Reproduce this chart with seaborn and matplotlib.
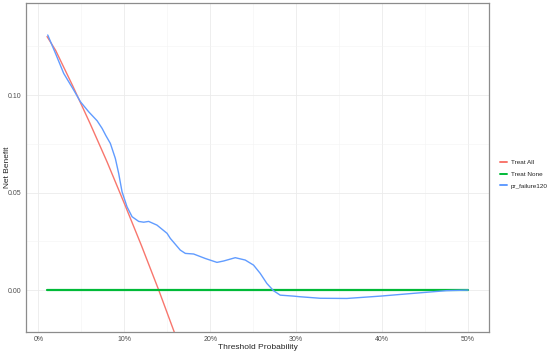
import numpy as np
import pandas as pd
import matplotlib
matplotlib.use("Agg")
import matplotlib.pyplot as plt
import seaborn as sns
from matplotlib.ticker import FuncFormatter, MultipleLocator

# Treat All
all_t = [0.01, 0.02, 0.04, 0.06, 0.08, 0.10, 0.12, 0.14, 0.16]
all_nb = [0.130, 0.1229, 0.1046, 0.0855, 0.0656, 0.0444, 0.0227, 0.0, -0.0238]

# Treat None
none_t = [0.01, 0.50]
none_nb = [0.0, 0.0]

# Model curve pr_failure120
mod_t = [0.0108, 0.0198, 0.0294, 0.041, 0.0488, 0.0585, 0.0683, 0.0741, 0.0785,
         0.0837, 0.0895, 0.0934, 0.0973, 0.1031, 0.109, 0.1167, 0.1225, 0.1283,
         0.138, 0.1497, 0.1535, 0.1651, 0.171, 0.1806, 0.1942, 0.2078, 0.2155,
         0.2291, 0.2407, 0.2504, 0.2581, 0.2659, 0.2736, 0.2814, 0.2969, 0.3038,
         0.328, 0.359, 0.398, 0.436, 0.475, 0.50]
mod_nb = [0.1308, 0.1214, 0.1111, 0.1026, 0.0966, 0.0914, 0.0868, 0.0829, 0.0792,
          0.0752, 0.0675, 0.0598, 0.0504, 0.0427, 0.0376, 0.0352, 0.0348, 0.0352,
          0.0333, 0.0291, 0.0265, 0.0205, 0.0188, 0.0185, 0.0162, 0.0142, 0.0149,
          0.0166, 0.0154, 0.0128, 0.0086, 0.0034, -0.0003, -0.0026, -0.0031, -0.0034,
          -0.0042, -0.0043, -0.0031, -0.0017, -0.0003, 0.0]

labels = ["Treat All", "Treat None", "pr_failure120"]
colors = ["#F8766D", "#00BA38", "#619CFF"]

df = pd.concat([
    pd.DataFrame({"t": all_t, "nb": all_nb, "model": labels[0]}),
    pd.DataFrame({"t": none_t, "nb": none_nb, "model": labels[1]}),
    pd.DataFrame({"t": mod_t, "nb": mod_nb, "model": labels[2]}),
])

sns.set_style("white")
plt.rcParams['font.family'] = ['Liberation Sans', 'DejaVu Sans']

fig = plt.figure(figsize=(5.54, 3.53), dpi=100)
ax = fig.add_axes([26/554, 1-332/353, (489-26)/554, (332-3)/353])

widths = [1.0, 1.6, 1.0]
handles = []
for lab, col, lw in zip(labels, colors, widths):
    sub = df[df["model"] == lab]
    sns.lineplot(data=sub, x="t", y="nb", color=col, linewidth=lw, ax=ax,
                 sort=False, estimator=None, legend=False)
    handles.append(plt.Line2D([0], [0], color=col, linewidth=1.4))

ax.set_xlim(-0.0145, 0.5245)
ax.set_ylim(-0.0215, 0.1472)
ax.xaxis.set_major_locator(MultipleLocator(0.1))
ax.xaxis.set_minor_locator(MultipleLocator(0.05))
ax.yaxis.set_major_locator(MultipleLocator(0.05))
ax.yaxis.set_minor_locator(MultipleLocator(0.025))
ax.xaxis.set_major_formatter(FuncFormatter(lambda v, p: f"{v*100:.0f}%"))
ax.yaxis.set_major_formatter(FuncFormatter(lambda v, p: f"{v:.2f}"))
ax.grid(True, which="major", color="#EBEBEB", linewidth=0.6)
ax.grid(True, which="minor", color="#F3F3F3", linewidth=0.4)
ax.set_axisbelow(True)
for s in ax.spines.values():
    s.set_color("#8C8C8C")
    s.set_linewidth(0.9)
ax.tick_params(axis="both", which="major", labelsize=5, colors="#4D4D4D",
               length=2, width=0.5, pad=1.2)
ax.tick_params(axis="both", which="minor", length=0)
ax.set_xlabel("Threshold Probability", fontsize=6, labelpad=0.5)
ax.set_ylabel("Net Benefit", fontsize=6)
ax.yaxis.set_label_coords(-0.033, 0.5)

fig.legend(handles, labels, loc="center left", bbox_to_anchor=(494/554, 1-174/353),
           frameon=False, fontsize=4.6, handlelength=1.2, handletextpad=0.5,
           labelspacing=1.0)

fig.savefig("out.png", dpi=100)
